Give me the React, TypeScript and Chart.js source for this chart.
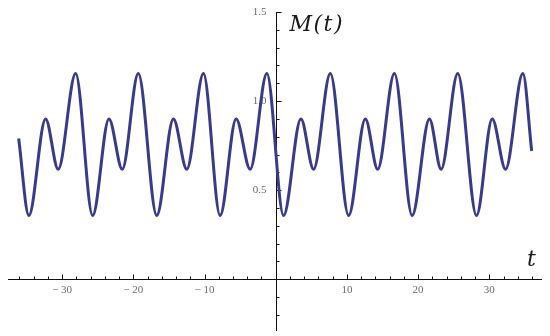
import React, { useEffect, useRef } from 'react';
import { Chart, registerables } from 'chart.js';

Chart.register(...registerables);

// Sample points (t, M(t)) at the curve's ends and turning points
const tValues = [
  -36.1, -34.67, -32.32, -30.55, -28.1, -25.71, -23.42, -21.55, -19.3, -16.71, -14.37, -12.49,
  -10.15, -7.81, -5.56, -3.59, -1.24, 1.1, 3.54, 5.32, 7.67, 10.24, 12.59, 14.32, 16.67, 19.16,
  21.59, 23.23, 25.57, 28.2, 30.41, 32.28, 34.71, 35.95,
];
const mValues = [
  0.79, 0.358, 0.9, 0.618, 1.155, 0.358, 0.9, 0.618, 1.155, 0.358, 0.9, 0.618,
  1.155, 0.358, 0.9, 0.618, 1.155, 0.358, 0.9, 0.618, 1.155, 0.358, 0.9, 0.618, 1.155, 0.358,
  0.9, 0.618, 1.155, 0.358, 0.9, 0.618, 1.155, 0.72,
];

// Axis ticks
const xMajorTicks = [-30, -20, -10, 10, 20, 30];
const xTickLabels = ['\u2212 30', '\u2212 20', '\u2212 10', '10', '20', '30'];
const xMinorTicks = [
  -36, -34, -32, -30, -28, -26, -24, -22, -20, -18, -16, -14, -12, -10, -8, -6, -4, -2,
  2, 4, 6, 8, 10, 12, 14, 16, 18, 20, 22, 24, 26, 28, 30, 32, 34, 36,
];
const yMajorTicks = [0.5, 1.0, 1.5];
const yTickLabels = ['0.5', '1.0', '1.5'];
const yMinorTicks = [
  -0.2, -0.1, 0.1, 0.2, 0.3, 0.4, 0.5, 0.6, 0.7, 0.8, 0.9, 1.0, 1.1, 1.2, 1.3, 1.4, 1.5,
];

const X_MIN = -37.6;
const X_MAX = 37.4;
const Y_MIN = -0.29;
const Y_MAX = 1.5;

const axesPlugin = {
  id: 'mathAxes',
  beforeDatasetsDraw(chart: any) {
    const { ctx, chartArea, scales } = chart;
    const xs = scales.x;
    const ys = scales.y;
    const x0 = Math.round(xs.getPixelForValue(0)) + 0.5;
    const y0 = Math.round(ys.getPixelForValue(0)) + 0.5;
    ctx.save();
    ctx.strokeStyle = '#111';
    ctx.lineWidth = 1;
    ctx.beginPath();
    ctx.moveTo(chartArea.left, y0);
    ctx.lineTo(chartArea.right, y0);
    ctx.moveTo(x0, chartArea.top);
    ctx.lineTo(x0, chartArea.bottom);
    ctx.stroke();

    ctx.beginPath();
    for (const t of xMinorTicks) {
      const px = Math.round(xs.getPixelForValue(t)) + 0.5;
      const len = xMajorTicks.includes(t) ? 5 : 3;
      ctx.moveTo(px, y0);
      ctx.lineTo(px, y0 - len);
    }
    for (const v of yMinorTicks) {
      const py = Math.round(ys.getPixelForValue(v)) + 0.5;
      const len = yMajorTicks.some((m) => Math.abs(m - v) < 1e-6) ? 5 : 3;
      ctx.moveTo(x0, py);
      ctx.lineTo(x0 + len, py);
    }
    ctx.stroke();

    ctx.fillStyle = '#6a6a6a';
    ctx.font = '11px "Liberation Serif", "DejaVu Serif", serif';
    ctx.textAlign = 'center';
    ctx.textBaseline = 'middle';
    xMajorTicks.forEach((t, i) => {
      ctx.fillText(xTickLabels[i], xs.getPixelForValue(t), y0 + 11);
    });
    ctx.textAlign = 'right';
    yMajorTicks.forEach((v, i) => {
      ctx.fillText(yTickLabels[i], x0 - 10, ys.getPixelForValue(v));
    });

    ctx.fillStyle = '#1a1a1a';
    ctx.font = 'italic 22px "DejaVu Serif", "Liberation Serif", serif';
    ctx.textAlign = 'left';
    ctx.textBaseline = 'alphabetic';
    if ('letterSpacing' in ctx) (ctx as any).letterSpacing = '1.5px';
    ctx.fillText('M(t)', x0 + 13, chartArea.top + 19);
    if ('letterSpacing' in ctx) (ctx as any).letterSpacing = '0px';
    ctx.fillText('t', chartArea.right - 15, y0 - 14);
    ctx.restore();
  },
};

export default function App() {
  const canvasRef = useRef<HTMLCanvasElement | null>(null);

  useEffect(() => {
    const canvas = canvasRef.current;
    if (!canvas) return;
    const chart = new Chart(canvas, {
      type: 'line',
      data: {
        datasets: [
          {
            data: tValues.map((t, i) => ({ x: t, y: mValues[i] })),
            borderColor: '#3a3a8c',
            borderWidth: 3,
            pointRadius: 0,
            cubicInterpolationMode: 'monotone',
            fill: false,
          },
        ],
      },
      options: {
        animation: false,
        responsive: false,
        maintainAspectRatio: false,
        layout: { padding: { left: 8, right: 8, top: 12, bottom: 5 } },
        plugins: { legend: { display: false }, tooltip: { enabled: false } },
        scales: {
          x: { type: 'linear', min: X_MIN, max: X_MAX, display: false },
          y: { type: 'linear', min: Y_MIN, max: Y_MAX, display: false },
        },
      },
      plugins: [axesPlugin],
    } as any);
    return () => chart.destroy();
  }, []);

  return (
    <div style={{ position: 'absolute', left: 0, top: 0, width: 550, height: 336, background: '#fff' }}>
      <canvas ref={canvasRef} width={550} height={336} style={{ width: 550, height: 336, display: 'block' }} />
    </div>
  );
}
